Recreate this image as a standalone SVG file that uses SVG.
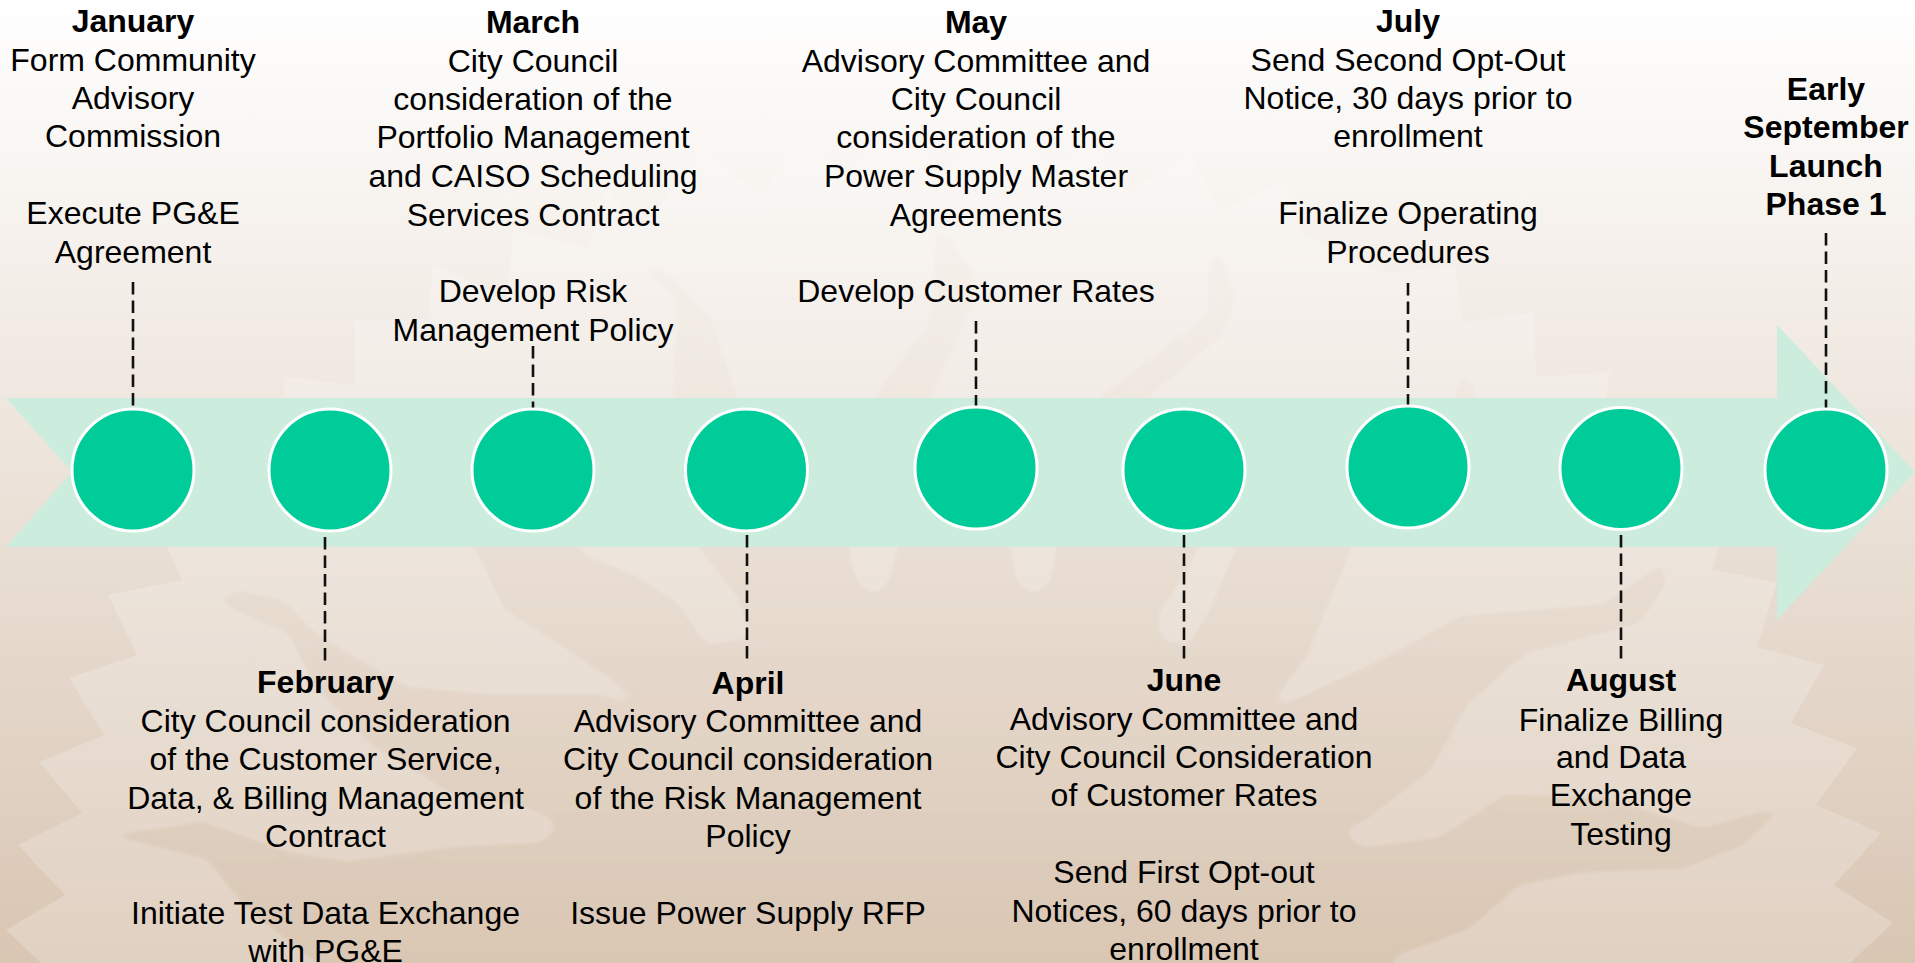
<svg xmlns="http://www.w3.org/2000/svg" width="1915" height="963" viewBox="0 0 1915 963">
<style>
text{font-family:"Liberation Sans",Arial,sans-serif;font-size:32px;fill:#000;text-anchor:middle}
.m{font-weight:bold}
.dot{fill:#00CC99;stroke:#fff;stroke-width:3}
.dash{stroke:#111;stroke-width:2.6;stroke-dasharray:12.5 6;fill:none}
</style>
<defs>
<linearGradient id="bg" gradientUnits="userSpaceOnUse" x1="0" y1="0" x2="0" y2="963">
<stop offset="0" stop-color="#FFFFFF"/><stop offset="1" stop-color="#D9C6B3"/>
</linearGradient>
<filter id="soft" filterUnits="userSpaceOnUse" x="0" y="0" width="1915" height="963">
<feGaussianBlur stdDeviation="5"/>
<feComponentTransfer><feFuncA type="linear" slope="7" intercept="-3"/></feComponentTransfer>
</filter>
</defs>
<g id="background">
<rect width="1915" height="963" fill="url(#bg)"/>
<polygon fill="#fff" fill-opacity=".2" points="284,398 284,377 355,385 355,320 428,320 433,265 506,300 514,230 588,247 608,190 640,228 703,153 762,195 801,135 845,175 893,125 945,170 995,123 1048,163 1097,153 1128,193 1189,152 1220,213 1285,180 1300,233 1385,273 1455,267 1463,323 1534,312 1536,377 1610,372 1606,398 1718,547 1712,570 1777,582 1757,647 1824,665 1791,723 1857,748 1816,805 1881,833 1834,885 1893,923 1850,963 41,963 6,930 65,895 18,845 82,813 39,762 104,735 69,678 137,655 108,595 182,580 167,547"/>
<polygon fill="url(#bg)" fill-opacity=".6" filter="url(#soft)" points="326,975 245,913 204,863 122,843 112,838 122,829 204,817 286,847 347,857 449,843 540,838 552,825 530,813 449,797 367,747 310,687 286,637 229,612 214,596 240,586 286,597 318,630 408,683 490,690 600,690 632,700 571,657 502,613 469,547 469,500 584,500 584,550 640,573 681,600 708,640 746,634 734,600 693,547 693,500 669,450 669,397 673,300 644,276 650,262 672,270 713,313 742,397 742,450 853,500 853,547 860,578 873,590 885,580 893,547 893,500 869,450 869,397 926,320 932,228 950,232 979,273 979,300 936,397 936,450 1015,500 1015,547 1020,578 1033,590 1047,578 1052,547 1052,500 1093,450 1093,397 1158,347 1203,313 1205,263 1215,245 1230,262 1240,300 1224,340 1154,397 1154,450 1203,500 1203,547 1191,573 1162,617 1165,636 1186,640 1205,610 1232,547 1232,500 1357,500 1450,450 1450,398 1456,380 1465,372 1476,380 1480,398 1480,450 1357,500 1357,547 1336,597 1310,660 1278,702 1300,693 1385,653 1459,612 1601,600 1650,567 1663,560 1672,583 1642,627 1528,657 1471,707 1434,773 1369,823 1350,833 1365,843 1438,833 1504,790 1601,793 1703,823 1765,806 1784,813 1744,850 1683,873 1581,877 1520,890 1471,933 1397,960 1397,975"/>
</g>
<polygon id="arrow" fill="#CCECDE" points="6,398 1777,398 1777,325 1915,472 1777,620 1777,547 6,547 72,472"/>
<g id="connectors">
<line class="dash" x1="133" y1="282" x2="133" y2="408"/>
<line class="dash" x1="325" y1="537" x2="325" y2="663"/>
<line class="dash" x1="533" y1="346" x2="533" y2="408"/>
<line class="dash" x1="747" y1="535" x2="747" y2="663"/>
<line class="dash" x1="976" y1="321" x2="976" y2="408"/>
<line class="dash" x1="1184" y1="535" x2="1184" y2="663"/>
<line class="dash" x1="1408" y1="283" x2="1408" y2="408"/>
<line class="dash" x1="1621" y1="535" x2="1621" y2="661"/>
<line class="dash" x1="1826" y1="233" x2="1826" y2="408"/>
</g>
<g id="jan"><circle class="dot" cx="133" cy="470" r="61"/>
<text><tspan class="m" x="133" y="32">January</tspan><tspan x="133" y="70.500">Form Community</tspan><tspan x="133" y="108.500">Advisory</tspan><tspan x="133" y="147">Commission</tspan><tspan x="133" y="224">Execute PG&amp;E</tspan><tspan x="133" y="263">Agreement</tspan></text></g>
<g id="feb"><circle class="dot" cx="330" cy="470" r="61"/>
<text><tspan class="m" x="325.500" y="693">February</tspan><tspan x="325.500" y="732">City Council consideration</tspan><tspan x="325.500" y="770">of the Customer Service,</tspan><tspan x="325.500" y="808.500">Data, &amp; Billing Management</tspan><tspan x="325.500" y="847">Contract</tspan><tspan x="325.500" y="924">Initiate Test Data Exchange</tspan><tspan x="325.500" y="962">with PG&amp;E</tspan></text></g>
<g id="mar"><circle class="dot" cx="533" cy="470" r="61"/>
<text><tspan class="m" x="533" y="33">March</tspan><tspan x="533" y="71.500">City Council</tspan><tspan x="533" y="110">consideration of the</tspan><tspan x="533" y="148">Portfolio Management</tspan><tspan x="533" y="187">and CAISO Scheduling</tspan><tspan x="533" y="225.500">Services Contract</tspan><tspan x="533" y="302">Develop Risk</tspan><tspan x="533" y="341">Management Policy</tspan></text></g>
<g id="apr"><circle class="dot" cx="746.500" cy="470" r="61"/>
<text><tspan class="m" x="748" y="693.500">April</tspan><tspan x="748" y="732">Advisory Committee and</tspan><tspan x="748" y="770">City Council consideration</tspan><tspan x="748" y="808.500">of the Risk Management</tspan><tspan x="748" y="847">Policy</tspan><tspan x="748" y="924">Issue Power Supply RFP</tspan></text></g>
<g id="may"><circle class="dot" cx="976" cy="468" r="61"/>
<text><tspan class="m" x="976" y="33">May</tspan><tspan x="976" y="71.500">Advisory Committee and</tspan><tspan x="976" y="110">City Council</tspan><tspan x="976" y="148">consideration of the</tspan><tspan x="976" y="187">Power Supply Master</tspan><tspan x="976" y="225.500">Agreements</tspan><tspan x="976" y="302">Develop Customer Rates</tspan></text></g>
<g id="jun"><circle class="dot" cx="1184" cy="470" r="61"/>
<text><tspan class="m" x="1184" y="691">June</tspan><tspan x="1184" y="730">Advisory Committee and</tspan><tspan x="1184" y="768">City Council Consideration</tspan><tspan x="1184" y="806">of Customer Rates</tspan><tspan x="1184" y="882.500">Send First Opt-out</tspan><tspan x="1184" y="921.500">Notices, 60 days prior to</tspan><tspan x="1184" y="960">enrollment</tspan></text></g>
<g id="jul"><circle class="dot" cx="1408" cy="467" r="61"/>
<text><tspan class="m" x="1408" y="32">July</tspan><tspan x="1408" y="70.500">Send Second Opt-Out</tspan><tspan x="1408" y="108.500">Notice, 30 days prior to</tspan><tspan x="1408" y="147">enrollment</tspan><tspan x="1408" y="224">Finalize Operating</tspan><tspan x="1408" y="263">Procedures</tspan></text></g>
<g id="aug"><circle class="dot" cx="1621" cy="468.500" r="61"/>
<text><tspan class="m" x="1621" y="691">August</tspan><tspan x="1621" y="730.500">Finalize Billing</tspan><tspan x="1621" y="768">and Data</tspan><tspan x="1621" y="806">Exchange</tspan><tspan x="1621" y="844.500">Testing</tspan></text></g>
<g id="sep"><circle class="dot" cx="1826" cy="470" r="61"/>
<text class="m"><tspan x="1826" y="100">Early</tspan><tspan x="1826" y="138">September</tspan><tspan x="1826" y="176.500">Launch</tspan><tspan x="1826" y="215">Phase 1</tspan></text></g>
</svg>
